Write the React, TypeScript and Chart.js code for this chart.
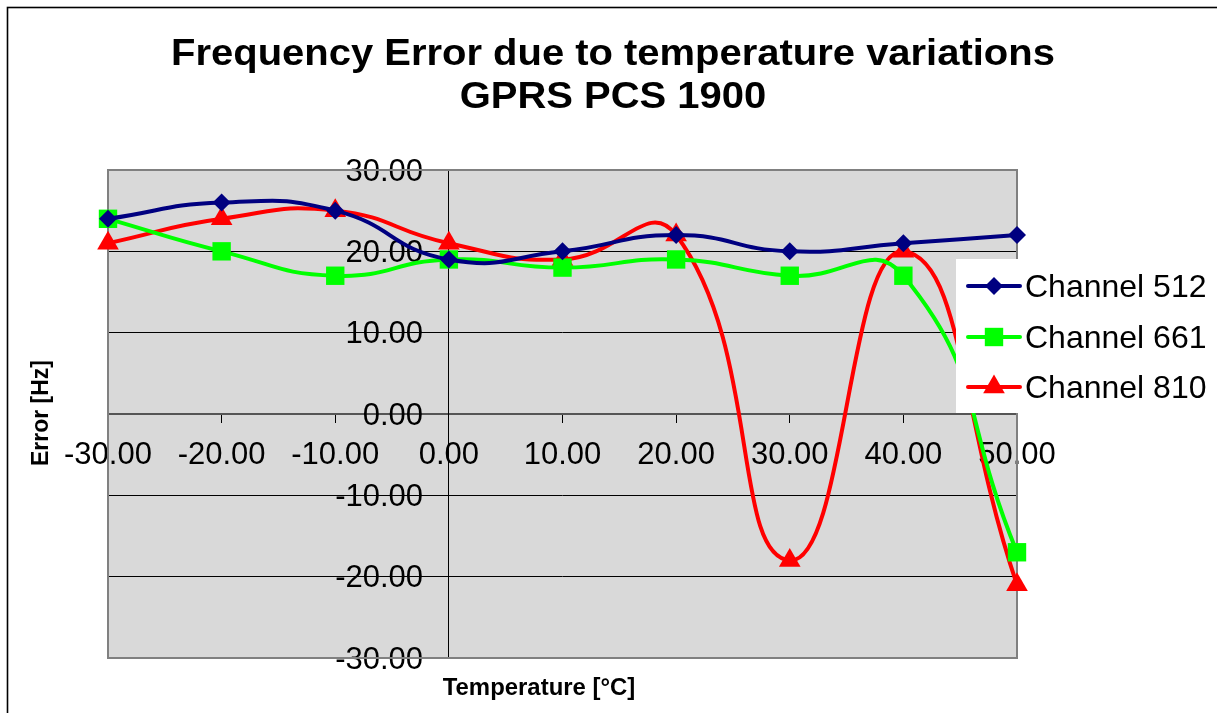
import React, { useEffect, useRef } from "react";
import { Chart, registerables } from "chart.js";

Chart.register(...registerables);

// ---- data ----
const temperatures = [-30, -20, -10, 0, 10, 20, 30, 40, 50];
const channel512 = [24, 26, 25, 19, 20, 22, 20, 21, 22];
const channel661 = [24, 20, 17, 19, 18, 19, 17, 17, -17];
const channel810 = [21, 24, 25, 21, 19, 22, -18, 20, -21];
const seriesNames = ["Channel 512", "Channel 661", "Channel 810"];
const seriesColors = ["#000080", "#00FF00", "#FF0000"];
const seriesMarkers = ["rectRot", "rect", "triangle"];
const markerRadius = [9, 13, 12.5];
const titleLines = ["Frequency Error due to temperature variations", "GPRS PCS 1900"];
const xAxisTitle = "Temperature [°C]";
const yAxisTitle = "Error [Hz]";
const xRange = [-30, 50];
const yRange = [-30, 30];
const tickStep = 10;

const FONT = "'Liberation Sans', Arial, sans-serif";

function drawMarker(ctx: CanvasRenderingContext2D, style: string, x: number, y: number, r: number, color: string) {
  ctx.save();
  ctx.fillStyle = color;
  ctx.beginPath();
  if (style === "rectRot") {
    ctx.moveTo(x - r, y);
    ctx.lineTo(x, y - r);
    ctx.lineTo(x + r, y);
    ctx.lineTo(x, y + r);
  } else if (style === "rect") {
    const s = r * Math.SQRT1_2;
    ctx.rect(x - s, y - s, 2 * s, 2 * s);
  } else {
    const w = Math.sin(Math.PI * 2 / 3) * r;
    ctx.moveTo(x, y - r);
    ctx.lineTo(x + w, y + r / 2);
    ctx.lineTo(x - w, y + r / 2);
  }
  ctx.closePath();
  ctx.fill();
  ctx.restore();
}

function stretchedText(ctx: CanvasRenderingContext2D, text: string, x: number, y: number, sx: number) {
  ctx.save();
  ctx.translate(x, y);
  ctx.scale(sx, 1);
  ctx.fillText(text, 0, 0);
  ctx.restore();
}

const decorPlugin = {
  id: "decor",
  beforeDraw(chart: any) {
    const { ctx, chartArea: a, width, height } = chart;
    ctx.save();
    ctx.fillStyle = "#ffffff";
    ctx.fillRect(0, 0, width, height);
    ctx.strokeStyle = "#000000";
    ctx.lineWidth = 1.6;
    ctx.strokeRect(1.5, 1.5, width + 20, height + 20);
    ctx.fillStyle = "#D9D9D9";
    ctx.fillRect(a.left, a.top, a.right - a.left, a.bottom - a.top);
    ctx.restore();
  },
  beforeDatasetsDraw(chart: any) {
    const { ctx, chartArea: a } = chart;
    ctx.save();
    ctx.strokeStyle = "#808080";
    ctx.lineWidth = 2;
    ctx.strokeRect(a.left, a.top, a.right - a.left, a.bottom - a.top);
    ctx.restore();
  },
  afterDraw(chart: any) {
    const { ctx } = chart;
    ctx.save();
    // legend
    ctx.fillStyle = "#ffffff";
    ctx.fillRect(950, 253, 280, 154);
    const rows = [280, 331, 381];
    seriesNames.forEach((name, i) => {
      const y = rows[i];
      ctx.strokeStyle = seriesColors[i];
      ctx.lineWidth = 4;
      ctx.lineCap = "round";
      ctx.beginPath();
      ctx.moveTo(962, y);
      ctx.lineTo(1014, y);
      ctx.stroke();
      drawMarker(ctx, seriesMarkers[i], 988, y, markerRadius[i], seriesColors[i]);
      ctx.fillStyle = "#000";
      ctx.font = `32px ${FONT}`;
      ctx.textAlign = "left";
      ctx.textBaseline = "alphabetic";
      ctx.fillText(name, 1019, y + 11);
    });
    // title
    ctx.fillStyle = "#000";
    ctx.textAlign = "center";
    ctx.textBaseline = "alphabetic";
    ctx.font = `bold 37px ${FONT}`;
    stretchedText(ctx, titleLines[0], 607, 59, 1.08);
    stretchedText(ctx, titleLines[1], 607, 102, 1.08);
    // axis titles
    ctx.font = `bold 23px ${FONT}`;
    stretchedText(ctx, xAxisTitle, 533, 689, 1.04);
    ctx.translate(36, 407);
    ctx.rotate(-Math.PI / 2);
    ctx.textBaseline = "middle";
    ctx.fillText(yAxisTitle, 0, 0);
    ctx.restore();
  },
};

export default function App() {
  const canvasRef = useRef<HTMLCanvasElement | null>(null);

  useEffect(() => {
    const canvas = canvasRef.current;
    if (!canvas) return;
    const makeData = (vals: number[]) => temperatures.map((t, i) => ({ x: t, y: vals[i] }));
    const all = [channel512, channel661, channel810];
    const chart = new Chart(canvas, {
      type: "line",
      data: {
        datasets: all.map((vals, i) => ({
          label: seriesNames[i],
          data: makeData(vals),
          borderColor: seriesColors[i],
          backgroundColor: seriesColors[i],
          borderWidth: 4,
          tension: 0.5,
          pointStyle: seriesMarkers[i] as any,
          pointRadius: markerRadius[i],
          pointBorderWidth: 0,
          pointBackgroundColor: seriesColors[i],
          pointBorderColor: seriesColors[i],
          clip: false as any,
          fill: false,
        })),
      },
      options: {
        animation: false,
        responsive: true,
        maintainAspectRatio: false,
        layout: { padding: { left: 102, top: 164, right: 200, bottom: 55 } },
        plugins: {
          legend: { display: false },
          title: { display: false },
          tooltip: { enabled: false },
        },
        scales: {
          x: {
            type: "linear",
            min: xRange[0],
            max: xRange[1],
            position: { y: 0 } as any,
            ticks: {
              stepSize: tickStep,
              autoSkip: false,
              maxRotation: 0,
              padding: 15,
              color: "#000",
              font: { family: FONT, size: 31 },
              callback: (v: any) => Number(v).toFixed(2),
            },
            grid: {
              drawOnChartArea: false,
              drawTicks: true,
              tickLength: 8,
              tickColor: "#000",
              color: "#000",
            },
            border: { display: true, color: "#555", width: 2 },
          },
          y: {
            type: "linear",
            min: yRange[0],
            max: yRange[1],
            position: { x: 0 } as any,
            ticks: {
              stepSize: tickStep,
              labelOffset: 2,
              color: "#000",
              font: { family: FONT, size: 31 },
              callback: (v: any) => Number(v).toFixed(2) + "   ",
            },
            grid: {
              drawTicks: true,
              tickLength: 8,
              tickColor: "#000",
              lineWidth: 1,
              color: (c: any) =>
                c.tick && (c.tick.value === yRange[0] || c.tick.value === yRange[1]) ? "rgba(0,0,0,0)" : "#000",
            },
            border: { display: true, color: "#000", width: 1 },
          },
        },
      },
      plugins: [decorPlugin],
    });
    return () => chart.destroy();
  }, []);

  return (
    <div style={{ position: "absolute", left: 6, top: 6, width: 1211, height: 707 }}>
      <canvas ref={canvasRef} />
    </div>
  );
}
